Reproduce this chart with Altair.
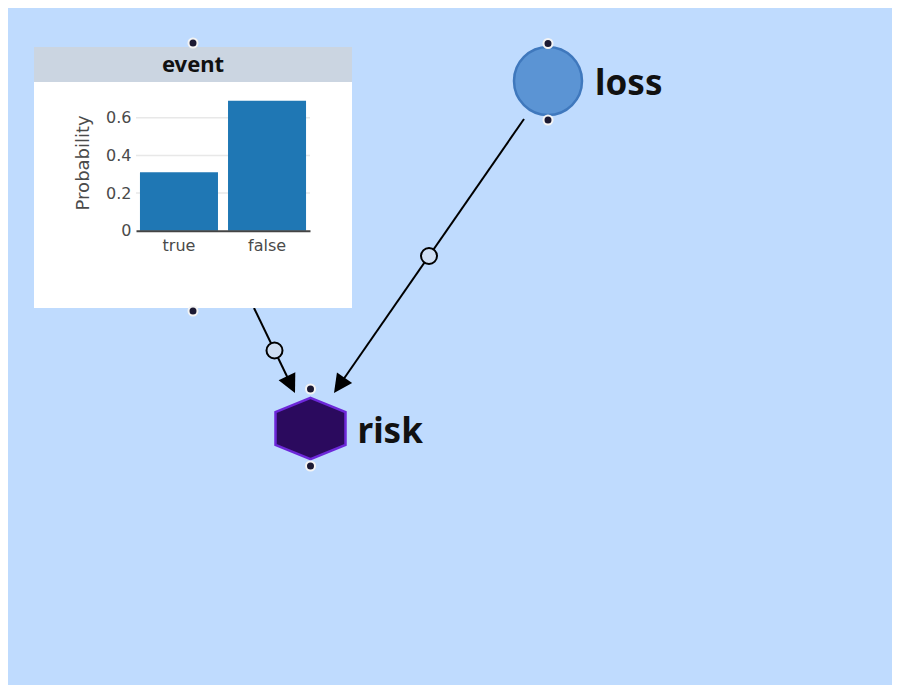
import math
import altair as alt
import pandas as pd

# ---- data (layout in page pixels) ----
bar_categories = ["true", "false"]
bar_probs = [0.31, 0.69]
bar_ticks = [0, 0.2, 0.4, 0.6]

node_names = ["loss", "risk"]
node_x = [548, 310.5]
node_y = [81, 428.5]

card_title = "event"
card_left, card_right = 34, 352
card_top, card_header_bottom, card_bottom = 47, 82, 308

edge_src_x = [254, 524]
edge_src_y = [308, 119]
edge_tgt_x = [295, 334]
edge_tgt_y = [393, 393]

handle_x = [193, 193, 548, 548, 310.5, 310.5]
handle_y = [43, 311, 43.5, 120, 389, 466]

# ---- scales ----
W, H = 884, 677
XS = alt.Scale(domain=[8, 8 + W], range=[0, W], zero=False, nice=False)
YS = alt.Scale(domain=[8, 8 + H], range=[0, H], zero=False, nice=False)


def X(f):
    return alt.X(f, type="quantitative", scale=XS, axis=None)


def Y(f):
    return alt.Y(f, type="quantitative", scale=YS, axis=None)


# ---- derived tables ----
edges = pd.DataFrame({"sx": edge_src_x, "sy": edge_src_y, "tx": edge_tgt_x, "ty": edge_tgt_y})
edges["len"] = ((edges.tx - edges.sx) ** 2 + (edges.ty - edges.sy) ** 2) ** 0.5
edges["ux"] = (edges.tx - edges.sx) / edges["len"]
edges["uy"] = (edges.ty - edges.sy) / edges["len"]
edges["ex"] = edges.tx - 10 * edges.ux
edges["ey"] = edges.ty - 10 * edges.uy
edges["mx"] = (edges.sx + edges.tx) / 2
edges["my"] = (edges.sy + edges.ty) / 2
edges["angle"] = [
    (math.degrees(math.atan2(-dx, dy)) + 360) % 360
    for dx, dy in zip(edges.tx - edges.sx, edges.ty - edges.sy)
]

nodes = pd.DataFrame({"name": node_names, "x": node_x, "y": node_y})
handles = pd.DataFrame({"x": handle_x, "y": handle_y})
card = pd.DataFrame({"x": [card_left], "x2": [card_right], "y": [card_top],
                     "yh": [card_header_bottom], "y2": [card_bottom],
                     "title": [card_title], "cx": [(card_left + card_right) / 2],
                     "cy": [(card_top + card_header_bottom) / 2]})
bars = pd.DataFrame({"state": bar_categories, "p": bar_probs})
grid = pd.DataFrame({"p": [t for t in bar_ticks if t > 0]})

LABEL_FONT = "Noto Sans"
AXIS_FONT = "DejaVu Sans"

# ---- layers ----
edge_lines = alt.Chart(edges).mark_rule(color="black", strokeWidth=2).encode(
    x=X("sx"), y=Y("sy"), x2="ex", y2="ey")

arrows = alt.Chart(edges).mark_point(
    shape="M0,0 L-0.5,-1 L0.5,-1 Z", filled=True, color="black", opacity=1, size=1369
).encode(x=X("tx"), y=Y("ty"), angle=alt.Angle("angle:Q", scale=None))

mids = alt.Chart(edges).mark_point(
    shape="circle", filled=True, fill="#cfdef3", stroke="black", strokeWidth=2, opacity=1, size=256
).encode(x=X("mx"), y=Y("my"))

card_body = alt.Chart(card).mark_rect(color="white").encode(
    x=X("x"), x2="x2", y=Y("y"), y2="y2")
card_head = alt.Chart(card).mark_rect(color="#cbd5e1").encode(
    x=X("x"), x2="x2", y=Y("y"), y2="yh")
card_text = alt.Chart(card).mark_text(
    font=LABEL_FONT, fontWeight="bold", fontSize=22, color="#111111", baseline="middle", align="center"
).encode(x=X("cx"), y=Y("cy"), text="title:N")

loss_node = alt.Chart(nodes).transform_filter(alt.datum.name == "loss").mark_point(
    shape="circle", filled=True, fill="#5b94d4", stroke="#3f78bd", strokeWidth=2.5, opacity=1, size=4624
).encode(x=X("x"), y=Y("y"))

risk_node = alt.Chart(nodes).transform_filter(alt.datum.name == "risk").mark_point(
    shape="M0,-0.875 L1,-0.47 L1,0.47 L0,0.875 L-1,0.47 L-1,-0.47 Z",
    filled=True, fill="#2b0a5e", stroke="#6d28d9", strokeWidth=2.5, opacity=1, size=4900
).encode(x=X("x"), y=Y("y"))

node_labels = alt.Chart(nodes).mark_text(
    font=LABEL_FONT, fontWeight="bold", fontSize=35, color="#111111", align="left",
    baseline="middle", dx=47, dy=3
).encode(x=X("x"), y=Y("y"), text="name:N")

handle_pts = alt.Chart(handles).mark_point(
    shape="circle", filled=True, fill="#1c1a33", stroke="#f4f4f4", strokeWidth=2, opacity=1, size=81
).encode(x=X("x"), y=Y("y"))

# ---- inner bar chart with its own scales and axes ----
BX = alt.Scale(domain=bar_categories, range=[128, 302], paddingInner=0.114, paddingOuter=0.045)
BY = alt.Scale(domain=[0, 0.726], range=[222.7, 86], nice=False, zero=True)

y_axis = alt.Axis(orient="left", offset=-128, values=bar_ticks, ticks=False,
                  domain=False, grid=False,
                  labelFont=AXIS_FONT, labelFontSize=16, labelColor="#4a4a4a",
                  labelPadding=5, titleFont=AXIS_FONT, titleFontSize=18,
                  titleFontWeight="normal", titleColor="#4a4a4a", titlePadding=13,
                  labelExpr="datum.value == 0 ? '0' : format(datum.value, '.1f')",
                  zindex=1)

grid_rules = alt.Chart(grid).mark_rule(color="#e8e8e8", strokeWidth=1.5).encode(
    y=alt.Y("p:Q", title="Probability", scale=BY, axis=y_axis),
    x=alt.value(128), x2=alt.value(302))

bar_marks = alt.Chart(bars).mark_bar(color="#1f77b4").encode(
    x=alt.X("state:N", sort=bar_categories, title=None, scale=BX,
            axis=alt.Axis(orient="bottom", offset=-(H - 222.7), labelAngle=0, ticks=False,
                          domainColor="#444444", domainWidth=2, labelFont=AXIS_FONT,
                          labelFontSize=16, labelColor="#4a4a4a", labelPadding=7, grid=False,
                          zindex=1)),
    y=alt.Y("p:Q", title="Probability", scale=BY, axis=y_axis),
)

bar_layer = alt.layer(grid_rules, bar_marks)

chart = alt.layer(
    edge_lines, arrows, mids, card_body, card_head, card_text, bar_layer,
    loss_node, risk_node, node_labels, handle_pts
).resolve_scale(x="independent", y="independent").properties(
    width=W, height=H, padding=0, background="#bfdbfe",
    autosize=alt.AutoSizeParams(type="none")
).configure_view(strokeWidth=0)

chart.save("out.html", embed_options={"renderer": "svg", "actions": False})
